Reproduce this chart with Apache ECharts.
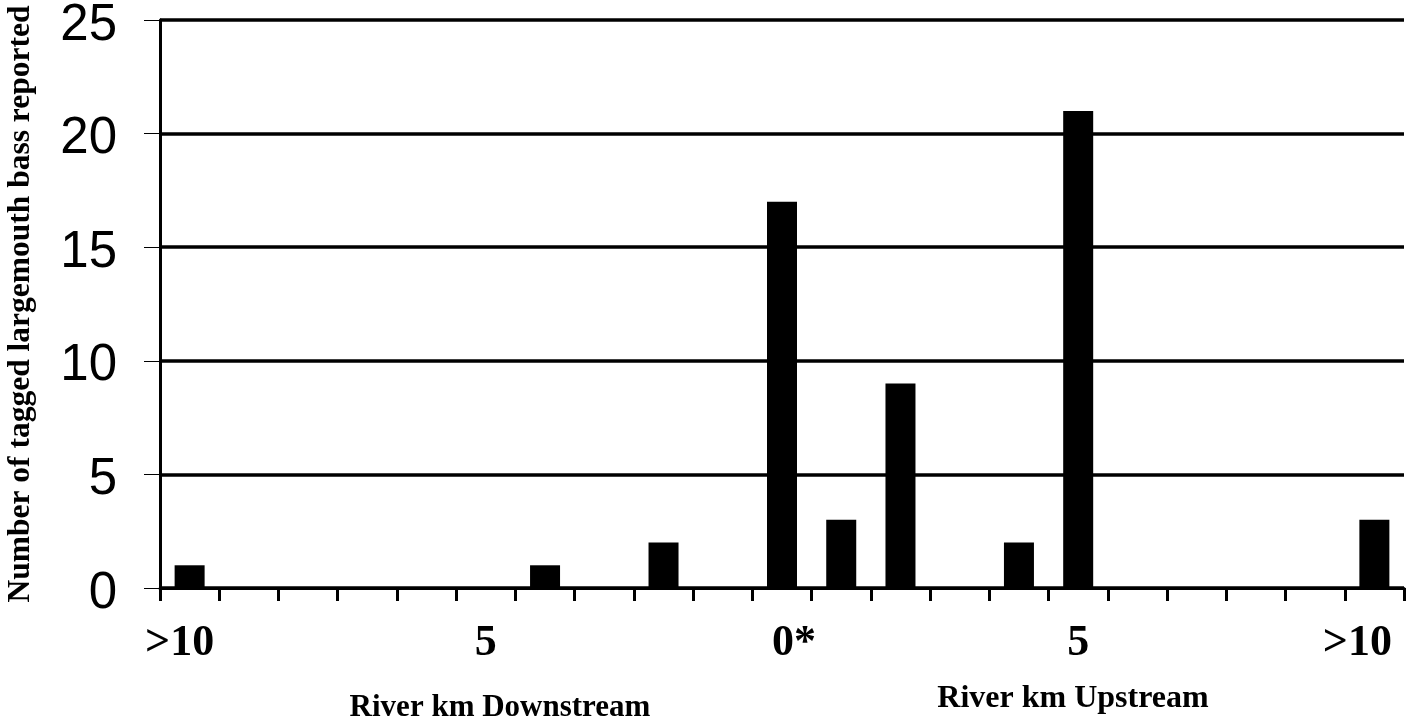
<!DOCTYPE html>
<html>
<head>
<meta charset="utf-8">
<script src="https://cdn.jsdelivr.net/npm/echarts@6/dist/echarts.min.js"></script>
<style>
html,body{margin:0;padding:0;background:#fff;}
#chart{width:1409px;height:723px;}
</style>
</head>
<body>
<div id="chart"></div>
<script>
// River km categories (downstream >10 ... 0* ... upstream >10)
const categories = ['>10','9','8','7','6','5','4','3','2','1','0*','1','2','3','4','5','6','7','8','9','>10'];
const counts = [1,0,0,0,0,0,1,0,2,0,17,3,9,0,2,21,0,0,0,0,3];
const yTicks = [0,5,10,15,20,25];
const yTitle = 'Number of tagged largemouth bass reported';
const downLabel = 'River km Downstream';
const upLabel = 'River km Upstream';

// small label nudges (left/right padding) to mimic the original label placement
const labelPad = {0: [0, 20, 0, 0], 10: [0, 0, 0, 24], 20: [0, 34, 0, 0]};
const catData = categories.map((c, i) => labelPad[i] ? {value: c, textStyle: {padding: labelPad[i]}} : c);

const chart = echarts.init(document.getElementById('chart'));
chart.setOption({
  animation: false,
  backgroundColor: '#ffffff',
  grid: {left: 160, right: 5, top: 20, bottom: 135, containLabel: false, outerBoundsMode: 'none'},
  xAxis: {
    type: 'category',
    data: catData,
    boundaryGap: true,
    axisLine: {show: true, lineStyle: {color: '#000', width: 3}},
    axisTick: {show: true, interval: 0, length: 13, lineStyle: {color: '#000', width: 3}},
    axisLabel: {
      interval: 4,
      margin: 34,
      color: '#000',
      fontFamily: 'Liberation Serif',
      fontWeight: 'bold',
      fontSize: 44
    },
    splitLine: {show: false}
  },
  yAxis: {
    type: 'value',
    min: yTicks[0],
    max: yTicks[yTicks.length - 1],
    interval: 5,
    name: yTitle,
    nameLocation: 'middle',
    nameRotate: 90,
    nameGap: 123,
    nameTextStyle: {color: '#000', fontFamily: 'Liberation Serif', fontWeight: 'bold', fontSize: 31.5},
    axisLine: {show: true, lineStyle: {color: '#000', width: 3}},
    axisTick: {show: true, length: 16, lineStyle: {color: '#000', width: 1}},
    axisLabel: {
      margin: 43,
      color: '#000',
      fontFamily: 'Liberation Sans',
      fontSize: 51,
      verticalAlign: 'top',
      lineHeight: 11
    },
    splitLine: {show: true, lineStyle: {color: '#000', width: 3.5}}
  },
  series: [{
    type: 'bar',
    data: counts,
    barWidth: 30,
    itemStyle: {color: '#000'}
  }],
  graphic: [
    {type: 'text', x: 500, y: 708, style: {text: downLabel, fill: '#000', font: 'bold 31px "Liberation Serif"', textAlign: 'center', textVerticalAlign: 'middle'}},
    {type: 'text', x: 1073, y: 699, style: {text: upLabel, fill: '#000', font: 'bold 32px "Liberation Serif"', textAlign: 'center', textVerticalAlign: 'middle'}}
  ]
});
</script>
</body>
</html>
